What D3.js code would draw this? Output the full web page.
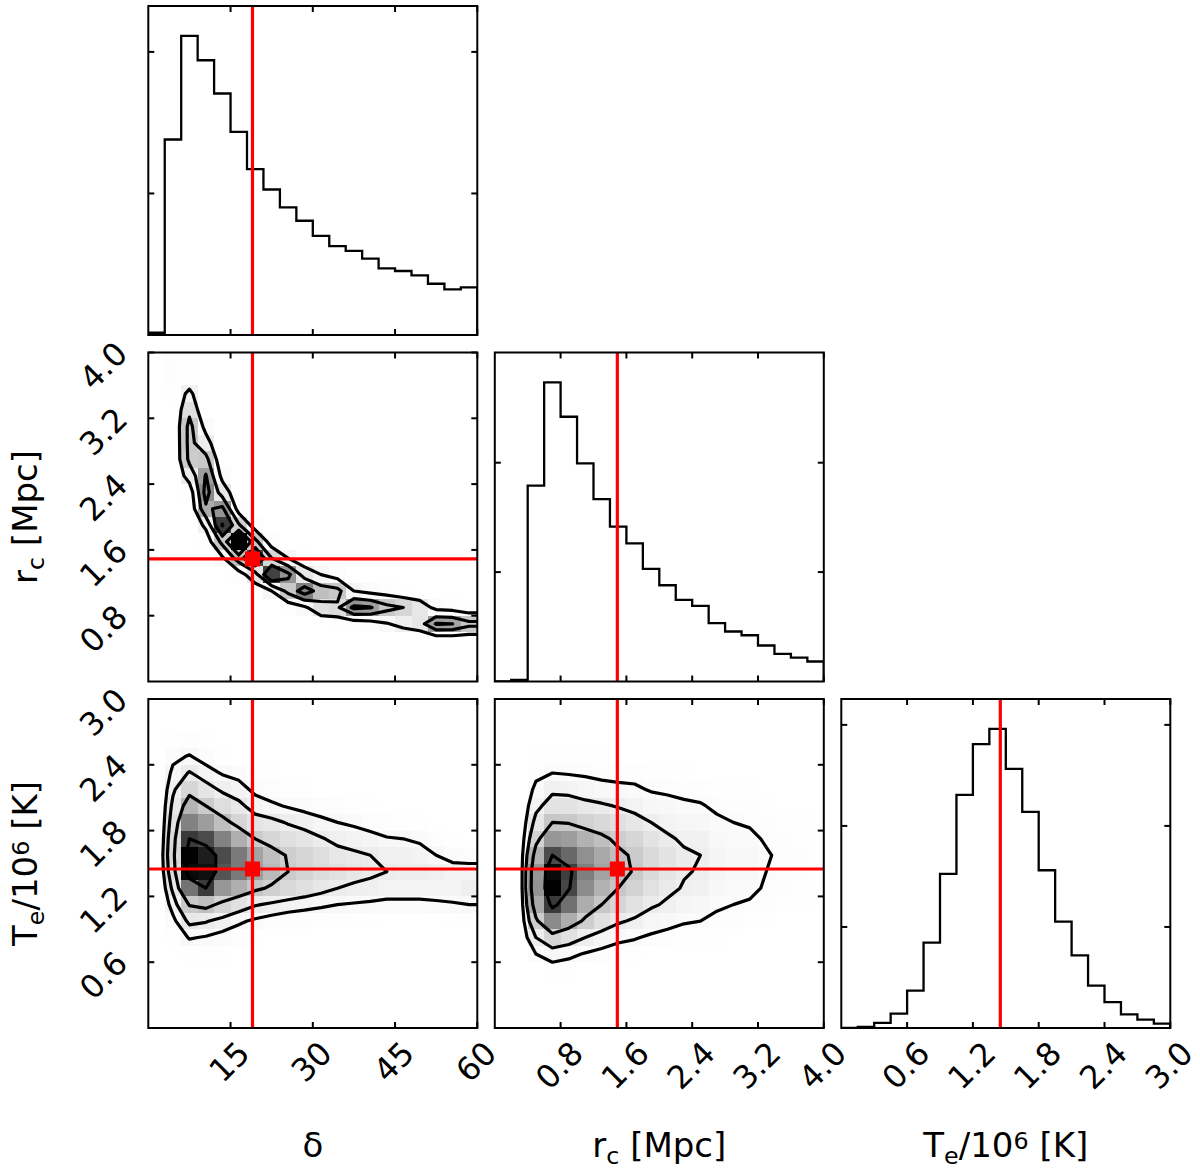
<!DOCTYPE html>
<html>
<head>
<meta charset="utf-8">
<script src="https://cdn.jsdelivr.net/npm/d3@7"></script>
<style>
  body { margin: 0; background: #fff; }
  text { font-family: "DejaVu Sans", sans-serif; fill: #000; white-space: pre; }
</style>
</head>
<body>
<div id="wrapper"></div>
<script>
// parameters: delta, r_c [Mpc], T_e/10^6 [K]
const ranges = [[0, 60], [0, 4], [0, 3]]
const truths = [19.0, 1.49, 1.45]
const axisTicks = [[15, 30, 45, 60], [0.8, 1.6, 2.4, 3.2, 4.0], [0.6, 1.2, 1.8, 2.4, 3.0]]
const tickText = [["15", "30", "45", "60"], ["0.8", "1.6", "2.4", "3.2", "4.0"], ["0.6", "1.2", "1.8", "2.4", "3.0"]]
const axisLabels = [
    [["δ"]],
    [["r"], ["c", "sub"], [" [Mpc]"]],
    [["T"], ["e", "sub"], ["/10"], ["6", "sup"], [" [K]"]]
]
const nBins = 20

// 1D histograms, 20 bins over each range
const histDelta = [16, 1381, 2113, 1941, 1706, 1435, 1172, 1028, 901, 807, 701, 628, 595, 539, 471, 452, 421, 362, 322, 336]
const histRc = [0, 15, 1790, 2734, 2420, 1994, 1668, 1416, 1263, 1029, 880, 746, 691, 533, 457, 423, 329, 253, 219, 183]
const histTe = [0, 10, 50, 142, 370, 845, 1525, 2307, 2809, 2960, 2564, 2139, 1561, 1053, 719, 419, 257, 135, 83, 43]
const histTicks = [[1000, 2000], [1000, 2000], [1000, 2000, 3000]]

// 2D histograms: one array per x bin (column), values from lowest y bin to highest
const gridRcDelta = [
    [0,0,0,0,0,0,0,0,0,0,0,0,0,0,0,0,0,0,0,0],
    [0,0,0,0,0,0,0,0,0,0,0,0,0,0,0,5,15,30,50,60],
    [0,0,0,0,0,0,0,0,0,0,10,40,180,290,300,300,230,150,40,30],
    [0,0,0,0,0,0,0,0,40,150,370,440,400,300,170,80,10,0,0,0],
    [0,0,0,0,0,0,20,100,300,570,420,200,80,20,0,0,0,0,0,0],
    [0,0,0,0,0,10,60,330,650,280,60,20,0,0,0,0,0,0,0,0],
    [0,0,0,0,0,40,210,550,300,50,10,0,0,0,0,0,0,0,0,0],
    [0,0,0,0,10,120,560,260,50,10,0,0,0,0,0,0,0,0,0,0],
    [0,0,0,0,40,300,420,120,20,0,0,0,0,0,0,0,0,0,0,0],
    [0,0,0,10,100,460,200,30,0,0,0,0,0,0,0,0,0,0,0,0],
    [0,0,0,20,220,330,120,10,0,0,0,0,0,0,0,0,0,0,0,0],
    [0,0,0,30,240,300,60,0,0,0,0,0,0,0,0,0,0,0,0,0],
    [0,0,0,40,420,120,15,0,0,0,0,0,0,0,0,0,0,0,0,0],
    [0,0,0,60,400,80,0,0,0,0,0,0,0,0,0,0,0,0,0,0],
    [0,0,0,110,300,60,0,0,0,0,0,0,0,0,0,0,0,0,0,0],
    [0,0,0,160,260,30,0,0,0,0,0,0,0,0,0,0,0,0,0,0],
    [0,0,0,205,200,15,0,0,0,0,0,0,0,0,0,0,0,0,0,0],
    [0,0,10,400,80,0,0,0,0,0,0,0,0,0,0,0,0,0,0,0],
    [0,0,15,390,60,0,0,0,0,0,0,0,0,0,0,0,0,0,0,0],
    [0,0,15,300,30,0,0,0,0,0,0,0,0,0,0,0,0,0,0,0]
]
const gridTeDelta = [
    [0,0,0,0,0,0,0,0,0,1,1,0,0,0,0,0,0,0,0,0],
    [0,0,0,0,3,7,13,21,30,37,40,38,34,30,25,19,13,7,3,1],
    [0,0,0,1,7,17,30,46,74,98,100,88,70,54,40,28,17,8,3,1],
    [0,0,0,1,6,15,28,50,88,97,94,84,62,45,32,21,11,5,1,0],
    [0,0,0,1,5,12,23,41,64,82,84,70,50,36,25,15,7,3,0,0],
    [0,0,0,0,3,9,18,34,56,72,72,56,40,30,21,12,4,1,0,0],
    [0,0,0,0,1,6,14,28,48,62,60,45,32,22,13,7,2,0,0,0],
    [0,0,0,0,0,4,11,25,43,52,50,40,30,18,10,5,1,0,0,0],
    [0,0,0,0,0,3,9,22,39,45,44,35,26,15,7,2,1,0,0,0],
    [0,0,0,0,0,2,8,20,35,41,40,32,23,12,5,1,0,0,0,0],
    [0,0,0,0,0,1,7,18,31,37,36,28,19,10,4,1,0,0,0,0],
    [0,0,0,0,0,1,6,16,27,34,31,24,16,8,3,0,0,0,0,0],
    [0,0,0,0,0,1,6,15,25,31,29,22,14,7,2,0,0,0,0,0],
    [0,0,0,0,0,0,5,14,24,29,27,20,11,5,2,0,0,0,0,0],
    [0,0,0,0,0,0,4,13,22,27,24,17,8,3,1,0,0,0,0,0],
    [0,0,0,0,0,0,4,13,22,26,23,16,7,2,1,0,0,0,0,0],
    [0,0,0,0,0,0,4,13,22,26,21,14,6,1,0,0,0,0,0,0],
    [0,0,0,0,0,0,4,14,22,24,16,9,3,1,0,0,0,0,0,0],
    [0,0,0,0,0,0,5,15,22,21,12,5,2,0,0,0,0,0,0,0],
    [0,0,0,0,0,0,6,16,25,21,11,4,1,0,0,0,0,0,0,0]
]
const gridTeRc = [
    [0,0,0,0,0,0,0,0,0,0,0,0,0,0,0,0,0,0,0,0],
    [0,0,0,0,0,0,0,1,2,2,2,1,0,0,0,0,0,0,0,0],
    [0,0,1,4,12,26,44,58,65,64,55,42,31,22,15,9,5,2,1,0],
    [0,0,2,6,18,40,68,88,100,98,84,64,47,33,23,12,6,3,1,0],
    [0,0,1,5,15,34,57,75,85,87,77,62,46,33,22,11,5,2,1,0],
    [0,0,1,4,11,26,44,57,67,71,66,55,42,30,19,10,5,2,1,0],
    [0,0,0,3,8,20,35,47,55,60,58,50,39,28,16,9,5,2,1,0],
    [0,0,0,2,6,15,28,40,47,51,50,44,35,25,15,8,4,2,1,0],
    [0,0,0,2,5,13,24,34,42,46,45,40,31,22,14,8,4,2,0,0],
    [0,0,0,1,4,10,19,28,34,38,38,33,26,18,11,6,3,1,0,0],
    [0,0,0,1,3,8,16,24,29,32,33,28,22,16,10,5,2,1,0,0],
    [0,0,0,0,3,7,13,20,25,27,28,24,19,14,9,5,2,1,0,0],
    [0,0,0,0,2,6,12,18,23,25,26,23,18,13,8,4,2,0,0,0],
    [0,0,0,0,2,5,9,14,18,20,20,17,14,10,6,3,1,0,0,0],
    [0,0,0,0,1,4,8,12,15,17,17,15,12,8,5,3,1,0,0,0],
    [0,0,0,0,1,3,7,11,14,16,16,14,11,8,5,3,1,0,0,0],
    [0,0,0,0,0,3,5,8,11,12,13,11,9,6,4,2,1,0,0,0],
    [0,0,0,0,0,2,4,6,9,10,10,8,6,4,3,1,1,0,0,0],
    [0,0,0,0,0,1,3,5,7,8,8,7,6,4,3,1,0,0,0,0],
    [0,0,0,0,0,1,3,5,6,7,7,6,5,3,2,1,0,0,0,0]
]

// layout
const size = 329, gap = 17.5, marginLeft = 148.3, marginTop = 6
const tickFont = 32, labelFont = 34
const red = "#ff0000"

const svg = d3.select("#wrapper").append("svg")
    .attr("width", 1200)
    .attr("height", 1174)
const defs = svg.append("defs")

const xs = ranges.map((r, k) => d3.scaleLinear().domain(r).range([marginLeft + k * (size + gap), marginLeft + k * (size + gap) + size]))
const ys = ranges.map((r, k) => d3.scaleLinear().domain(r).range([marginTop + k * (size + gap) + size, marginTop + k * (size + gap)]))

function panel(col, row) {
    const x0 = marginLeft + col * (size + gap), y0 = marginTop + row * (size + gap)
    const id = `clip${col}${row}`
    defs.append("clipPath").attr("id", id)
        .append("rect").attr("x", x0).attr("y", y0).attr("width", size).attr("height", size)
    const g = svg.append("g")
    const inner = g.append("g").attr("clip-path", `url(#${id})`)
    return {g, inner, x0, y0}
}

// inward ticks on all four sides + frame
function frameAndTicks(p, xScale, xt, yScale, yt) {
    const len = 6
    const tk = p.g.append("g").attr("stroke", "#000").attr("stroke-width", 2)
    xt.forEach(v => {
        const x = xScale(v)
        tk.append("line").attr("x1", x).attr("x2", x).attr("y1", p.y0 + size).attr("y2", p.y0 + size - len)
        tk.append("line").attr("x1", x).attr("x2", x).attr("y1", p.y0).attr("y2", p.y0 + len)
    })
    yt.forEach(v => {
        const y = yScale(v)
        tk.append("line").attr("y1", y).attr("y2", y).attr("x1", p.x0).attr("x2", p.x0 + len)
        tk.append("line").attr("y1", y).attr("y2", y).attr("x1", p.x0 + size).attr("x2", p.x0 + size - len)
    })
    p.g.append("rect")
        .attr("x", p.x0).attr("y", p.y0).attr("width", size).attr("height", size)
        .attr("fill", "none").attr("stroke", "#000").attr("stroke-width", 2)
}

function histPanel(k, counts, ticks) {
    const p = panel(k, k)
    const x = xs[k]
    const y = d3.scaleLinear().domain([0, 1.1 * d3.max(counts)]).range([p.y0 + size, p.y0])
    const bw = (ranges[k][1] - ranges[k][0]) / nBins
    const pts = [[ranges[k][0], 0]]
    counts.forEach((c, i) => {
        pts.push([ranges[k][0] + i * bw, c], [ranges[k][0] + (i + 1) * bw, c])
    })
    pts.push([ranges[k][1], 0])
    p.inner.append("path")
        .attr("d", d3.line().x(d => x(d[0])).y(d => y(d[1]))(pts))
        .attr("fill", "none").attr("stroke", "#000").attr("stroke-width", 2.3)
    p.inner.append("line")
        .attr("x1", x(truths[k])).attr("x2", x(truths[k]))
        .attr("y1", p.y0).attr("y2", p.y0 + size)
        .attr("stroke", red).attr("stroke-width", 3.2)
    frameAndTicks(p, x, axisTicks[k], y, ticks)
}

// contour levels the corner way: density levels enclosing 1-exp(-s^2/2) of the mass
function cornerLevels(cols) {
    const flat = cols.flat().sort((a, b) => b - a)
    const total = d3.sum(flat)
    let cum = 0
    const sm = flat.map(v => (cum += v) / total)
    const fracs = [0.5, 1, 1.5, 2].map(s => 1 - Math.exp(-0.5 * s * s))
    return fracs.map(f => {
        let v = flat[0]
        sm.forEach((s, i) => { if (s <= f) v = flat[i] })
        return v
    }).sort((a, b) => a - b)
}

function hist2dPanel(col, row, cols) {
    const p = panel(col, row)
    const x = xs[col], y = ys[row]
    const [xmin, xmax] = ranges[col], [ymin, ymax] = ranges[row]
    const bw = (xmax - xmin) / nBins, bh = (ymax - ymin) / nBins
    const hmax = d3.max(cols.flat())
    // colormap black -> transparent white, applied to (max - H)
    const f = d3.scaleLinear().domain([0, hmax]).range([1, 0])

    const cells = []
    cols.forEach((c, i) => c.forEach((v, j) => { if (v > 0) cells.push({i, j, v}) }))
    p.inner.selectAll(null)
        .data(cells)
        .join("rect")
        .attr("x", d => Math.round(x(xmin + d.i * bw)))
        .attr("y", d => Math.round(y(ymin + (d.j + 1) * bh)))
        .attr("width", d => Math.round(x(xmin + (d.i + 1) * bw)) - Math.round(x(xmin + d.i * bw)))
        .attr("height", d => Math.round(y(ymin + d.j * bh)) - Math.round(y(ymin + (d.j + 1) * bh)))
        .attr("fill", d => d3.rgb(255 * f(d.v), 255 * f(d.v), 255 * f(d.v)))
        .attr("fill-opacity", d => 1 - f(d.v))
        .attr("shape-rendering", "crispEdges")

    // padded grid (2 extra bins each side, edge bins repeated once) as corner does
    const m = nBins + 4
    const values = new Array(m * m).fill(0)
    for (let j = 1; j < m - 1; j++) {
        for (let i = 1; i < m - 1; i++) {
            const ci = Math.min(nBins - 1, Math.max(0, i - 2))
            const cj = Math.min(nBins - 1, Math.max(0, j - 2))
            values[j * m + i] = cols[ci][cj]
        }
    }
    const tr = d3.geoTransform({
        point: function(px, py) { this.stream.point(x(xmin + (px - 2) * bw), y(ymin + (py - 2) * bh)) }
    })
    const contours = d3.contours().size([m, m]).thresholds(cornerLevels(cols))(values)
    p.inner.selectAll(null)
        .data(contours)
        .join("path")
        .attr("d", d3.geoPath(tr))
        .attr("fill", "none").attr("stroke", "#000").attr("stroke-width", 3.2)
        .attr("stroke-linejoin", "round")

    const tx = x(truths[col]), ty = y(truths[row])
    p.inner.append("line").attr("x1", tx).attr("x2", tx).attr("y1", p.y0).attr("y2", p.y0 + size)
        .attr("stroke", red).attr("stroke-width", 3.2)
    p.inner.append("line").attr("y1", ty).attr("y2", ty).attr("x1", p.x0).attr("x2", p.x0 + size)
        .attr("stroke", red).attr("stroke-width", 3.2)
    p.inner.append("rect").attr("x", tx - 7.5).attr("y", ty - 7.5).attr("width", 15).attr("height", 15)
        .attr("fill", red)
    frameAndTicks(p, x, axisTicks[col], y, axisTicks[row])
}

histPanel(0, histDelta, histTicks[0])
histPanel(1, histRc, histTicks[1])
histPanel(2, histTe, histTicks[2])
hist2dPanel(0, 1, gridRcDelta)
hist2dPanel(0, 2, gridTeDelta)
hist2dPanel(1, 2, gridTeRc)

// rotated tick labels
function tickLabel(txt) {
    const t = svg.append("text").text(txt)
        .attr("font-size", tickFont)
        .attr("text-anchor", "middle")
        .attr("dy", "0.36em")
    const w = t.node().getComputedTextLength() - 0.1 * tickFont
    return {t, half: 0.3536 * (w + 0.73 * tickFont)}
}
const bottomY = marginTop + 2 * (size + gap) + size
for (let k = 0; k < 3; k++) {
    axisTicks[k].forEach((v, i) => {
        const {t, half} = tickLabel(tickText[k][i])
        t.attr("transform", `translate(${xs[k](v) - 1.5},${bottomY + 12 + half}) rotate(-45)`)
    })
}
for (let k = 1; k < 3; k++) {
    axisTicks[k].forEach((v, i) => {
        const {t, half} = tickLabel(tickText[k][i])
        t.attr("transform", `translate(${marginLeft - 20 - half},${ys[k](v) + 13}) rotate(-45)`)
    })
}

// axis labels with sub/superscripts
function richText(sel, parts) {
    let shift = 0
    parts.forEach(([s, kind]) => {
        const target = kind === "sub" ? 7 : kind === "sup" ? -8.5 : 0
        sel.append("tspan").text(s)
            .attr("dy", target - shift)
            .attr("font-size", kind ? labelFont * 0.7 : labelFont)
        shift = target
    })
}
for (let k = 0; k < 3; k++) {
    const cx = marginLeft + k * (size + gap) + size / 2
    const t = svg.append("text").attr("text-anchor", "middle").attr("font-size", labelFont)
        .attr("x", cx).attr("y", 1157)
    richText(t, axisLabels[k])
}
for (let k = 1; k < 3; k++) {
    const cy = marginTop + k * (size + gap) + size / 2
    const t = svg.append("text").attr("text-anchor", "middle").attr("font-size", labelFont)
        .attr("transform", `translate(37,${cy}) rotate(-90)`)
    richText(t, axisLabels[k])
}
</script>
</body>
</html>
